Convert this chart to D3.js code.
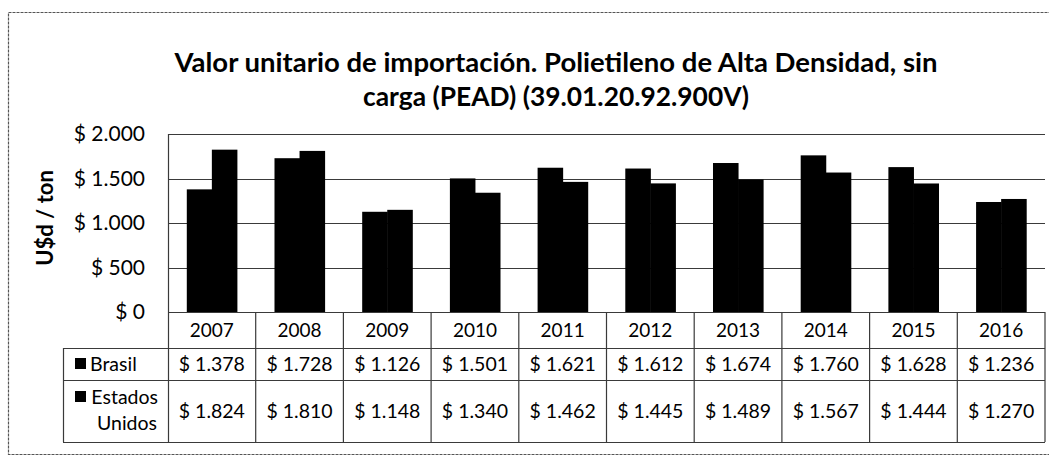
<!DOCTYPE html>
<html><head><meta charset="utf-8">
<script src="https://cdn.jsdelivr.net/npm/d3@7"></script>
<style>body{margin:0;background:#fff}svg{display:block}</style>
</head><body>
<svg id="c" width="1049" height="460"></svg>
<script>
const years = ["2007","2008","2009","2010","2011","2012","2013","2014","2015","2016"];
const brasil = [1378,1728,1126,1501,1621,1612,1674,1760,1628,1236];
const estadosUnidos = [1824,1810,1148,1340,1462,1445,1489,1567,1444,1270];
const seriesNames = ["Brasil","Estados Unidos"];
const yTicks = [0,500,1000,1500,2000];
const titleLines = ["Valor unitario de importación. Polietileno de Alta Densidad, sin","carga (PEAD) (39.01.20.92.900V)"];
const yAxisTitle = "U$d / ton";

const loc = d3.formatLocale({decimal:",",thousands:".",grouping:[3],currency:["$ ",""]});
const fmt = v => "$ " + loc.format(",d")(v);

const svg = d3.select("#c");
const font = "Lato, 'Open Sans', sans-serif";
const gridColor = "#3a3a3a";

// outer border
svg.append("rect").attr("x",8.5).attr("y",12.5).attr("width",1050).attr("height",442)
  .attr("fill","none").attr("stroke","#555").attr("stroke-width",1.2).attr("stroke-dasharray","3,1");

// title
const tw = [763, 386];
titleLines.forEach((t,i)=>{
  const el = svg.append("text").attr("x",556).attr("y",[72,106][i]).attr("text-anchor","middle")
    .attr("font-family",font).attr("font-weight","bold").attr("font-size",24).attr("fill","#000").text(t);
  const w = el.node().getComputedTextLength();
  el.attr("font-size", 24*tw[i]/w);
});

const x0 = 168, x1 = 1045, yTop = 134, yBase = 312;
const rowYear = [312,348], rowB = [348,380], rowE = [380,442];

const x = d3.scaleBand().domain(years).range([x0,x1]).padding(0);
const inner = d3.scaleBand().domain(seriesNames).range([0, x.bandwidth()]).paddingInner(0).paddingOuter(0.75);
const y = d3.scaleLinear().domain([0,2000]).range([yBase,yTop]);

// gridlines
svg.append("g").selectAll("line").data(yTicks).join("line")
  .attr("x1",x0).attr("x2",x1).attr("y1",d=>Math.round(y(d))+0.5).attr("y2",d=>Math.round(y(d))+0.5)
  .attr("stroke",gridColor).attr("stroke-width",1.2);

// y axis labels
const yAxis = d3.axisLeft(y).tickValues(yTicks).tickFormat(fmt).tickSize(0).tickPadding(23);
const ga = svg.append("g").attr("transform",`translate(${x0},0)`).call(yAxis);
ga.select(".domain").remove();
ga.selectAll("text").attr("font-family",font).attr("font-size",21).attr("fill","#000");

svg.append("text").attr("transform","translate(53,218) rotate(-90)").attr("text-anchor","middle")
  .attr("font-family",font).attr("font-weight","bold").attr("font-size",22).attr("fill","#000").text(yAxisTitle);

// bars
const data = [brasil, estadosUnidos];
seriesNames.forEach((s,si)=>{
  svg.append("g").selectAll("rect").data(years).join("rect")
    .attr("x",(d)=>x(d)+inner(s))
    .attr("width",inner.bandwidth()+0.5)
    .attr("y",(d,i)=>y(data[si][i]))
    .attr("height",(d,i)=>yBase-y(data[si][i]))
    .attr("fill","#000");
});

// plot border left/top and table lines
const lines = svg.append("g").attr("stroke",gridColor).attr("stroke-width",1.2).attr("fill","none");
lines.append("line").attr("x1",x0+0.5).attr("x2",x0+0.5).attr("y1",yTop).attr("y2",rowE[1]);
years.forEach(yr=>{
  const xr = x(yr)+x.bandwidth();
  lines.append("line").attr("x1",xr).attr("x2",xr).attr("y1",yBase).attr("y2",rowE[1]);
});
[rowYear[1], rowB[1], rowE[1]].forEach(yy=>{
  lines.append("line").attr("x1",63).attr("x2",x1).attr("y1",yy+0.5).attr("y2",yy+0.5);
});
lines.select("line:nth-last-child(3)").attr("x1",63);
lines.append("line").attr("x1",63.5).attr("x2",63.5).attr("y1",rowYear[1]).attr("y2",rowE[1]);

// year labels
svg.append("g").selectAll("text").data(years).join("text")
  .attr("x",d=>x(d)+x.bandwidth()/2).attr("y",(rowYear[0]+rowYear[1])/2+7)
  .attr("text-anchor","middle").attr("font-family",font).attr("font-size",19).attr("fill","#000").text(d=>d);

// values
const rows = [rowB, rowE];
data.forEach((arr,si)=>{
  svg.append("g").selectAll("text").data(arr).join("text")
    .attr("x",(d,i)=>x(years[i])+x.bandwidth()/2).attr("y",(rows[si][0]+rows[si][1])/2+7)
    .attr("text-anchor","middle").attr("font-family",font).attr("font-size",19.5).attr("fill","#000").text(d=>fmt(d));
});

// legend
svg.append("rect").attr("x",75).attr("y",358).attr("width",11).attr("height",11).attr("fill","#000");
svg.append("text").attr("x",90).attr("y",371).attr("font-family",font).attr("font-size",19.5).attr("fill","#000").text(seriesNames[0]);
svg.append("rect").attr("x",75).attr("y",391).attr("width",11).attr("height",11).attr("fill","#000");
const parts = seriesNames[1].split(" ");
svg.append("text").attr("x",158).attr("y",404).attr("text-anchor","end").attr("font-family",font).attr("font-size",19.5).attr("fill","#000").text(parts[0]);
svg.append("text").attr("x",157).attr("y",430).attr("text-anchor","end").attr("font-family",font).attr("font-size",19.5).attr("fill","#000").text(parts[1]);
</script>
</body></html>
